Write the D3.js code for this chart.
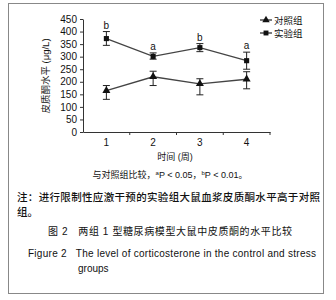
<!DOCTYPE html>
<html>
<head>
<meta charset="utf-8">
<script src="https://cdn.jsdelivr.net/npm/d3@7"></script>
<style>
  body { margin: 0; background: #fff; }
  svg { font-family: "Liberation Sans", Arial, "Noto Sans CJK SC", sans-serif; }
  svg text { white-space: pre; }
</style>
</head>
<body>
<div id="chart"></div>
<script>
// Data
const weeks = ["1", "2", "3", "4"];
const controlMean = [165, 220, 192, 210];
const controlErrLow = [130, 185, 148, 172];
const controlErrHigh = [185, 242, 212, 240];
const stressMean = [372, 301, 336, 284];
const stressErrLow = [345, 290, 320, 250];
const stressErrHigh = [400, 315, 352, 318];
const sigLetters = ["b", "a", "b", "a"];
const yTicks = [0, 50, 100, 150, 200, 250, 300, 350, 400, 450];

const width = 336, height = 300;
const svg = d3.select("#chart").append("svg")
  .attr("width", width)
  .attr("height", height);

// frame
svg.append("rect")
  .attr("x", 8.5).attr("y", 3.5)
  .attr("width", 315).attr("height", 290)
  .attr("fill", "none")
  .attr("stroke", "#888")
  .attr("stroke-width", 1);

const x = d3.scaleBand().domain(weeks).range([83, 270]);
const y = d3.scaleLinear().domain([0, 450]).range([132, 19]);

// axes
const yAxis = svg.append("g")
  .attr("transform", "translate(83,0)")
  .call(d3.axisLeft(y).tickValues(yTicks).tickSize(3).tickSizeOuter(0));
const xAxis = svg.append("g")
  .attr("transform", "translate(0,132)")
  .call(d3.axisBottom(x).tickSize(0));
// category separators on the x axis
xAxis.selectAll(".sep")
  .data(weeks)
  .enter().append("line")
  .attr("x1", d => x(d) + x.bandwidth())
  .attr("x2", d => x(d) + x.bandwidth())
  .attr("y1", 0).attr("y2", 3)
  .attr("stroke", "#000");
[yAxis, xAxis].forEach(g => {
  g.selectAll("text").attr("font-size", 10).attr("fill", "#111");
  g.selectAll("path, line").attr("stroke", "#333");
});
xAxis.selectAll("text").attr("dy", "1.1em");

const cx = d => x(d) + x.bandwidth() / 2;

function drawSeries(means, lows, highs, marker) {
  const pts = weeks.map((w, i) => ({w, m: means[i], lo: lows[i], hi: highs[i]}));
  svg.append("path")
    .datum(pts)
    .attr("fill", "none")
    .attr("stroke", "#444")
    .attr("stroke-width", 1.3)
    .attr("d", d3.line().x(d => cx(d.w)).y(d => y(d.m)));
  const eb = svg.append("g").selectAll("g").data(pts).enter().append("g");
  eb.append("line")
    .attr("x1", d => cx(d.w)).attr("x2", d => cx(d.w))
    .attr("y1", d => y(d.lo)).attr("y2", d => y(d.hi))
    .attr("stroke", "#222");
  eb.append("line")
    .attr("x1", d => cx(d.w) - 3.5).attr("x2", d => cx(d.w) + 3.5)
    .attr("y1", d => y(d.lo)).attr("y2", d => y(d.lo))
    .attr("stroke", "#222");
  eb.append("line")
    .attr("x1", d => cx(d.w) - 3.5).attr("x2", d => cx(d.w) + 3.5)
    .attr("y1", d => y(d.hi)).attr("y2", d => y(d.hi))
    .attr("stroke", "#222");
  svg.append("g").selectAll("path").data(pts).enter().append("path")
    .attr("transform", d => `translate(${cx(d.w)},${y(d.m)})`)
    .attr("d", d3.symbol().type(marker).size(marker === d3.symbolSquare ? 26 : 28))
    .attr("fill", "#111");
}

drawSeries(controlMean, controlErrLow, controlErrHigh, d3.symbolTriangle);
drawSeries(stressMean, stressErrLow, stressErrHigh, d3.symbolSquare);

// significance letters
svg.append("g").selectAll("text").data(weeks).enter().append("text")
  .attr("x", d => cx(d))
  .attr("y", (d, i) => y(stressErrHigh[i]) - 3)
  .attr("text-anchor", "middle")
  .attr("font-size", 10)
  .attr("fill", "#111")
  .text((d, i) => sigLetters[i]);

// y label
svg.append("text")
  .attr("transform", "translate(49,76) rotate(-90)")
  .attr("text-anchor", "middle")
  .attr("font-size", 9.5)
  .attr("fill", "#111")
  .text("皮质酮水平 (μg/L)");

// legend
const legend = [
  {name: "对照组", sym: d3.symbolTriangle},
  {name: "实验组", sym: d3.symbolSquare}
];
const lg = svg.append("g").selectAll("g").data(legend).enter().append("g")
  .attr("transform", (d, i) => `translate(260,${20 + i * 13})`);
lg.append("line").attr("x1", 0).attr("x2", 12).attr("stroke", "#333").attr("stroke-width", 1.3);
lg.append("path").attr("transform", "translate(6,0)")
  .attr("d", d => d3.symbol().type(d.sym).size(24)()).attr("fill", "#111");
lg.append("text").attr("x", 14).attr("y", 3.5)
  .attr("font-size", 9.5).attr("fill", "#111").text(d => d.name);

// captions
const cap = svg.append("g").attr("fill", "#111");
cap.append("text").attr("x", 175).attr("y", 160).attr("text-anchor", "middle")
  .attr("font-size", 9).text("时间 (周)");
const sig = cap.append("text").attr("x", 170).attr("y", 178).attr("text-anchor", "middle")
  .attr("font-size", 9);
sig.append("tspan").text("与对照组比较，");
sig.append("tspan").attr("font-size", 6).attr("dy", -3).text("a");
sig.append("tspan").attr("dy", 3).text("P < 0.05，");
sig.append("tspan").attr("font-size", 6).attr("dy", -3).text("b");
sig.append("tspan").attr("dy", 3).text("P < 0.01。");
cap.append("text").attr("x", 17).attr("y", 201)
  .attr("font-size", 10.5).attr("font-weight", 500)
  .attr("textLength", 303).attr("lengthAdjust", "spacing")
  .text("注：进行限制性应激干预的实验组大鼠血浆皮质酮水平高于对照");
cap.append("text").attr("x", 17).attr("y", 216)
  .attr("font-size", 10.5).attr("font-weight", 500).text("组。");
cap.append("text").attr("x", 48).attr("y", 235)
  .attr("font-size", 10).attr("textLength", 244).attr("lengthAdjust", "spacing")
  .text("图 2   两组 1 型糖尿病模型大鼠中皮质酮的水平比较");
cap.append("text").attr("x", 28).attr("y", 257)
  .attr("font-size", 10).attr("textLength", 288).attr("lengthAdjust", "spacing")
  .text("Figure 2   The level of corticosterone in the control and stress");
cap.append("text").attr("x", 78).attr("y", 272)
  .attr("font-size", 10).text("groups");
</script>
</body>
</html>
